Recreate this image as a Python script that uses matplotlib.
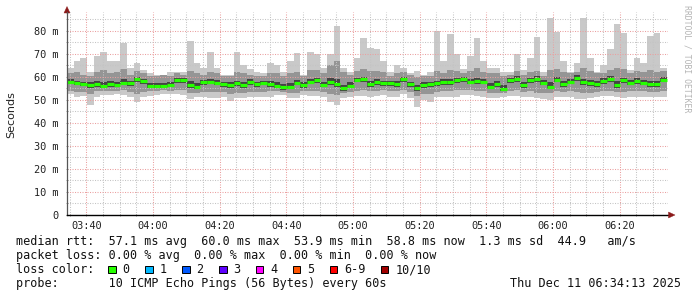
import numpy as np
import matplotlib
matplotlib.use('Agg')
import matplotlib.pyplot as plt
from matplotlib.patches import Rectangle, Polygon
from matplotlib.ticker import FixedLocator, FuncFormatter

# ---------------- data (ms, 2-minute bins from 03:34:13) ----------------
start_min = 3 * 60 + 34 + 13 / 60.0
step_min = 2

median = [58.0, 57.4, 57.1, 56.3, 57.0, 56.2, 57.0, 56.5, 57.5, 57.3, 59.0, 58.2, 56.0, 56.2, 56.0, 56.6, 58.5, 58.6, 56.5, 55.5, 57.8, 58.0, 57.5,
          56.8, 56.5, 57.2, 56.3, 57.8, 56.9, 57.4, 57.0, 56.2, 55.5, 55.8, 57.5, 56.5, 58.0, 58.5, 56.5, 57.6, 57.0, 55.0, 56.2, 58.8, 59.0,
          56.8, 57.8, 57.2, 57.2, 56.8, 59.0, 57.0, 55.0, 56.5, 56.8, 57.2, 57.8, 57.8, 58.5, 59.0, 58.0, 58.3, 58.0, 55.8, 56.8, 54.8, 58.6, 59.0,
          56.5, 58.5, 59.0, 57.5, 55.8, 58.8, 57.0, 58.0, 59.5, 57.8, 57.2, 56.8, 58.2, 59.3, 56.5, 58.5, 57.5, 58.3, 57.5, 57.0, 57.0, 58.8]

ping_max = [64, 67, 68, 62, 69, 71, 67, 67, 74.6, 64, 66, 63, 61.6, 61, 61, 62.3, 62, 62, 75.4, 66, 64, 71, 64,
            61, 61, 71, 65, 63.5, 62, 61.5, 66, 65, 62, 66.7, 70.6, 61, 71, 70, 64, 70, 82, 64, 62, 68, 76.8,
            72.6, 72, 66.7, 62, 65, 64, 61.5, 62.5, 61, 62, 80, 67, 78.7, 70, 63.5, 69, 77, 67, 64, 64, 62, 62, 70,
            63, 68, 77.5, 62, 85.5, 79.5, 67, 62, 66, 85.5, 68, 62, 65, 72, 83, 79, 63, 68, 66, 77.6, 79, 64]

ping_min = [52.5, 51.2, 51.5, 48.0, 51.4, 52.0, 52.0, 52.5, 52.0, 51.4, 49.2, 51.2, 51.8, 52.2, 52.5, 52.5, 52.4, 52.2, 50.5, 51.2, 51.3, 51.0, 50.8,
            51.4, 49.5, 50.8, 50.8, 51.2, 51.4, 51.2, 51.2, 52.2, 52.0, 50.8, 50.7, 52.2, 51.8, 51.8, 51.4, 49.0, 48.0, 50.8, 51.2, 51.6, 51.8,
            51.4, 51.8, 52.2, 51.4, 51.4, 52.5, 51.0, 47.0, 49.8, 49.3, 51.2, 51.2, 51.4, 51.4, 52.2, 52.2, 51.6, 51.4, 50.8, 50.7, 51.4, 51.6, 51.6,
            51.4, 51.2, 50.7, 50.2, 50.0, 51.4, 51.4, 51.2, 50.5, 50.5, 50.8, 51.2, 51.8, 51.6, 51.2, 50.8, 51.2, 51.4, 51.2, 51.2, 51.2, 51.2]

ping_hi2 = [61.5, 62, 61, 60.5, 62, 63, 61.5, 62, 63.5, 61, 62.5, 61.5, 60.5, 60.5, 60.8, 60.5, 61.5, 61, 62.5, 61.5, 61, 62, 61.5,
            60.5, 60.5, 62, 61.5, 61, 60.5, 60.5, 61.5, 61.5, 60.5, 61.5, 62, 60.5, 63, 63, 61.5, 65, 67, 62, 61, 62.5, 63.5,
            62.5, 62.5, 62, 60.5, 61.5, 62, 60.8, 60, 60.5, 60.5, 62.5, 61.5, 63, 62.5, 61.5, 62.5, 64, 62, 61.5, 61.5, 60.5, 61, 62.5,
            61, 62, 62.5, 60.5, 63, 63.5, 62, 61.5, 62, 64, 62.5, 61.5, 61.5, 63, 64, 63.5, 61.5, 62.5, 62, 63, 62, 62.5]

ping_lo2 = [54, 53.5, 53.5, 52.5, 53.8, 54, 54, 54, 54.2, 53.5, 52.5, 53.5, 53.8, 54, 54.2, 54, 54.5, 54.5, 53, 53, 53.5, 53.5, 53.5,
            53.5, 52.5, 53, 53, 53.5, 53.5, 53.5, 53.8, 54, 53.5, 53, 53.2, 54, 54, 54, 53.5, 52.5, 52, 53, 53.5, 54, 54.2,
            54, 54, 54.5, 54, 53.8, 54.5, 53.5, 51.5, 52.5, 52.5, 53.5, 53.8, 54, 54.2, 54.5, 54.5, 54, 53.8, 53, 53, 53, 54, 54.2,
            53.5, 53.8, 53.2, 53, 52.8, 53.8, 53.5, 53.8, 53.5, 53, 53, 53.5, 54, 54, 53.5, 53.5, 53.8, 54, 53.8, 53.5, 53.5, 54]

ping_hi3 = [59.0, 58.4, 58.0, 57.7, 58.2, 57.7, 58.2, 58.0, 59.2, 58.4, 60.0, 59.2, 57.4, 57.4, 57.2, 57.7, 59.4, 59.4, 58.2, 57.2, 58.7, 59.2, 58.7,
            58.0, 57.7, 58.4, 57.7, 59.0, 58.0, 58.4, 58.2, 57.7, 57.0, 57.2, 58.7, 57.7, 59.2, 59.7, 58.0, 59.7, 59.2, 56.7, 57.7, 59.7, 60.0,
            58.2, 59.0, 58.4, 58.2, 58.2, 60.0, 58.0, 56.7, 57.7, 58.0, 58.4, 59.0, 59.0, 59.7, 60.0, 59.2, 59.7, 59.2, 57.2, 58.2, 56.7, 59.7, 60.2,
            58.0, 59.7, 60.2, 58.7, 57.7, 60.0, 58.4, 59.2, 60.7, 59.2, 58.7, 58.2, 59.4, 60.4, 58.2, 59.7, 58.7, 59.4, 58.7, 58.4, 58.4, 60.0]

ping_lo3 = [56.8, 56.3, 56.0, 55.0, 55.8, 55.0, 55.8, 55.6, 56.3, 56.0, 57.6, 56.8, 55.0, 55.3, 55.0, 55.6, 57.3, 57.3, 55.3, 54.6, 56.6, 56.8, 56.3,
            55.6, 55.3, 56.0, 55.3, 56.6, 55.8, 56.3, 55.8, 55.0, 54.3, 54.6, 56.3, 55.3, 56.8, 57.3, 55.6, 56.3, 55.8, 53.8, 55.0, 57.6, 57.8,
            55.6, 56.6, 56.0, 56.0, 55.8, 57.8, 55.8, 53.8, 55.3, 55.6, 56.0, 56.6, 56.6, 57.3, 57.8, 56.8, 57.1, 56.8, 54.8, 55.6, 53.8, 57.3, 57.8,
            55.3, 57.3, 57.8, 56.3, 54.8, 57.6, 55.8, 56.8, 58.3, 56.6, 56.0, 55.6, 57.0, 58.0, 55.3, 57.3, 56.3, 57.1, 56.3, 55.8, 55.8, 57.6]

y_major = [0, 10, 20, 30, 40, 50, 60, 70, 80]
x_major_labels = ["03:40", "04:00", "04:20", "04:40", "05:00", "05:20", "05:40", "06:00", "06:20"]

loss_labels = ["0", "1", "2", "3", "4", "5", "6-9", "10/10"]
loss_colors = ["#26ff00", "#00b8ff", "#0059ff", "#5e00ff", "#ff00ff", "#ff5500", "#ff0000", "#a10000"]

legend_lines = [
    "median rtt:  57.1 ms avg  60.0 ms max  53.9 ms min  58.8 ms now  1.3 ms sd  44.9   am/s",
    "packet loss: 0.00 % avg  0.00 % max  0.00 % min  0.00 % now",
    "loss color:",
    "probe:       10 ICMP Echo Pings (56 Bytes) every 60s",
]
stamp = "Thu Dec 11 06:34:13 2025"

# ---------------- figure ----------------
W, H = 697, 297
fig = plt.figure(figsize=(W / 100, H / 100), dpi=100)
fig.patch.set_facecolor('white')
ax = fig.add_axes([67 / W, 82 / H, 601 / W, 203 / H])
ax.set_facecolor('white')

n = len(median)
edges = start_min + step_min * np.arange(n + 1)

def band(lo, hi, color):
    lo_e = np.append(lo, lo[-1])
    hi_e = np.append(hi, hi[-1])
    ax.fill_between(edges, lo_e, hi_e, step='post', color=color, lw=0, zorder=1)

band(np.array(ping_min), np.array(ping_max), '#c9c9c9')
band(np.array(ping_lo2), np.array(ping_hi2), '#959595')
band(np.array(ping_lo3), np.array(ping_hi3), '#444444')
ax.hlines(median, edges[:-1], edges[1:], colors='#26ff00', lw=2.3, zorder=3)

x_end = start_min + 180.3
ax.set_xlim(start_min, x_end)
ax.set_ylim(0, 88.2)

x_major = [220 + 20 * i for i in range(len(x_major_labels))]
x_minor = [m for m in np.arange(215, 395, 5) if m not in x_major]
y_minor = [v for v in np.arange(5, 88, 5) if v not in y_major]

mono = 'DejaVu Sans Mono'
ax.xaxis.set_major_locator(FixedLocator(x_major))
ax.xaxis.set_minor_locator(FixedLocator(x_minor))
ax.yaxis.set_major_locator(FixedLocator(y_major))
ax.yaxis.set_minor_locator(FixedLocator(y_minor))
ax.set_xticklabels(x_major_labels)
ax.yaxis.set_major_formatter(FuncFormatter(lambda v, p: "0" if v == 0 else "%d m" % v))
for lab in ax.get_xticklabels() + ax.get_yticklabels():
    lab.set_fontfamily(mono)
    lab.set_fontsize(7.4)
    lab.set_color('#222222')
ax.tick_params(axis='both', which='both', length=2, width=0.6, color='#888888', direction='inout')
ax.tick_params(axis='x', which='major', pad=3)
ax.tick_params(axis='y', which='major', pad=5)

dot = (0, (1, 1.4))
ax.grid(which='minor', color='#c4c4c4', lw=0.75, linestyle=dot, zorder=4)
ax.grid(which='major', color='#eaa0a0', lw=0.75, linestyle=dot, zorder=4)
ax.set_axisbelow(False)

for s in ['top', 'right']:
    ax.spines[s].set_visible(False)
ax.spines['left'].set_color('#555555')
ax.spines['left'].set_linewidth(0.9)
ax.spines['bottom'].set_color('#000000')
ax.spines['bottom'].set_linewidth(1.0)
ax.spines['left'].set_zorder(6)
ax.spines['bottom'].set_zorder(6)

def px(x, y):
    return (x / W, 1 - y / H)

# axis arrows
arrow_col = '#8b1a1a'
fig.add_artist(Polygon([px(64, 13), px(70, 13), px(67, 6.5)], closed=True, transform=fig.transFigure,
                       facecolor=arrow_col, edgecolor=arrow_col, lw=0.3))
fig.add_artist(Polygon([px(668.5, 212), px(668.5, 218), px(675, 215)], closed=True, transform=fig.transFigure,
                       facecolor=arrow_col, edgecolor=arrow_col, lw=0.3))
fig.add_artist(plt.Line2D([67 / W, 67 / W], [1 - 13 / H, 1 - 12 / H], transform=fig.transFigure, color='#555555', lw=0.9))

fig.text(11 / W, 1 - 114.5 / H, "Seconds", rotation=90, ha='center', va='center',
         fontsize=8, family='DejaVu Sans', color='#222222')
fig.text(687.5 / W, 1 - 5 / H, "RRDTOOL / TOBI OETIKER", rotation=270, ha='center', va='top',
         fontsize=5.9, family=mono, color='#b4b4b4')

# legend text
fs = 8.5
x0 = 15.5
baselines = [245.3, 259.3, 273.3, 287.3]
for txt, yb in zip(legend_lines, baselines):
    fig.text(x0 / W, 1 - yb / H, txt, ha='left', va='baseline', fontsize=fs, family=mono, color='#111111')
fig.text(681.5 / W, 1 - baselines[3] / H, stamp, ha='right', va='baseline', fontsize=fs, family=mono, color='#111111')

box_x = [108.3, 145.2, 182.1, 219.0, 255.9, 292.8, 329.7, 380.9]
for bx, lab, col in zip(box_x, loss_labels, loss_colors):
    fig.add_artist(Rectangle((bx / W, 1 - 273.3 / H), 7.5 / W, 7.5 / H, transform=fig.transFigure,
                             facecolor=col, edgecolor='#000000', lw=0.7))
    fig.text((bx + 14.3) / W, 1 - baselines[2] / H, lab, ha='left', va='baseline', fontsize=fs,
             family=mono, color='#111111')

fig.savefig('out.png', dpi=100, facecolor='white')
